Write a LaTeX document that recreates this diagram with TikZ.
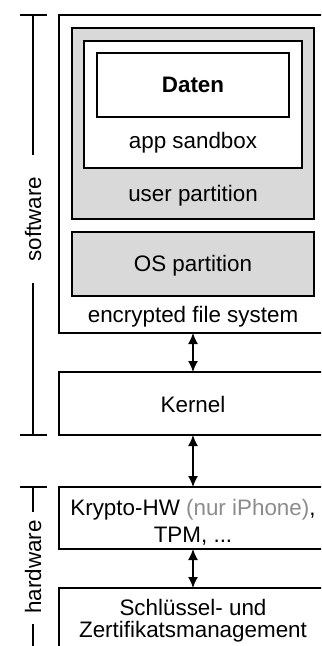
\documentclass[tikz,border=0pt]{standalone}
\usepackage{fontspec}
\setmainfont{Liberation Sans}
\usetikzlibrary{arrows.meta}
\definecolor{partgray}{HTML}{D9D9D9}
\definecolor{notegray}{HTML}{8C8C8C}
\begin{document}
\begin{tikzpicture}[x=0.5pt,y=-0.5pt,
  every node/.style={font=\fontsize{11.2}{14}\selectfont, inner sep=0pt, outer sep=0pt},
  box/.style={draw, line width=0.7pt, fill=white},
  greybox/.style={box, fill=partgray},
  lbl/.style={anchor=base},
  dlink/.style={line width=0.7pt, {Latex[length=5.5pt,width=5pt]}-{Latex[length=5.5pt,width=5pt]}},
  bracket/.style={line width=0.7pt}]
\useasboundingbox (0,0) rectangle (321,646);
\clip (0,0) rectangle (321,646);

% file system with its partitions
\node[box, minimum width=134pt, minimum height=159pt] (fs) at (193,174) {};
\node[greybox, minimum width=121pt, minimum height=95.5pt] (userp) at (193,123.5) {};
\node[box, minimum width=109pt, minimum height=63.5pt] (sandbox) at (193,104.5) {};
\node[box, minimum width=96pt, minimum height=32pt] (daten) at (193,85) {};
\node[greybox, minimum width=121pt, minimum height=32pt] (osp) at (193,264) {};

\node[lbl] (tdaten) at (193,93) {\textbf{Daten}};
\node[lbl] (tsandbox) at (193,149) {app sandbox};
\node[lbl] (tuserp) at (193,202) {user partition};
\node[lbl] (tosp) at (193,271) {OS partition};
\node[lbl] (tfs) at (193,322) {encrypted file system};

% lower layers
\node[box, minimum width=134pt, minimum height=31.5pt] (kernel) at (193,403.5) {};
\node[lbl] (tkernel) at (193,412) {Kernel};

\node[box, minimum width=134pt, minimum height=31pt] (krypto) at (193,518) {};
\node[lbl] (tkrypto1) at (193,515) {Krypto-HW {\color{notegray}(nur iPhone)},};
\node[lbl] (tkrypto2) at (193,542) {TPM, ...};

\node[box, minimum width=134pt, minimum height=36pt] (keys) at (193,624) {};
\node[lbl] (tkeys1) at (193,615) {Schlüssel- und};
\node[lbl] (tkeys2) at (193,637) {Zertifikatsmanagement};

% connections between the layers
\draw[dlink] (fs.south) -- (kernel.north);
\draw[dlink] (kernel.south) -- (krypto.north);
\draw[dlink] (krypto.south) -- (keys.north);

% software / hardware brackets
\draw[bracket] (20,15) -- (47,15) (33,15) -- (33,155);
\draw[bracket] (33,283) -- (33,435) (20,435) -- (47,435);
\node[anchor=base, rotate=90] (tsoft) at (41,219) {software};

\draw[bracket] (20,487) -- (47,487) (33,487) -- (33,512);
\draw[bracket] (33,624) -- (33,660);
\node[anchor=base, rotate=90] (thard) at (41,567) {hardware};
\end{tikzpicture}
\end{document}
